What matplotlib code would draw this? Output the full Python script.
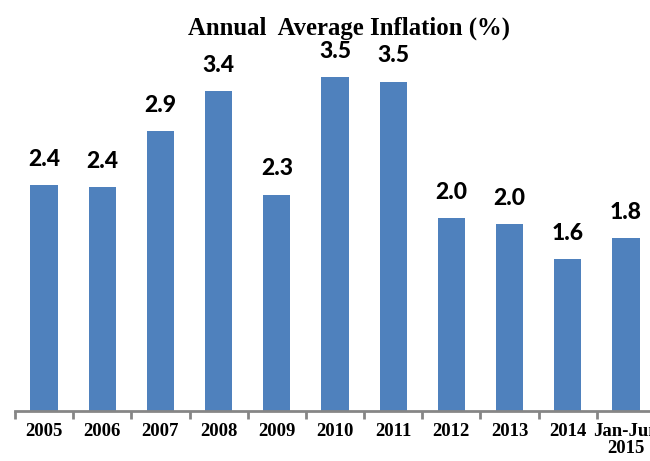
import matplotlib
matplotlib.use("Agg")
import matplotlib.pyplot as plt
import numpy as np

categories = ["2005", "2006", "2007", "2008", "2009", "2010", "2011",
              "2012", "2013", "2014", "Jan-Jun\n2015"]
values = [2.37, 2.35, 2.94, 3.36, 2.27, 3.51, 3.46, 2.02, 1.96, 1.59, 1.81]
title = "Annual  Average Inflation (%)"

fig = plt.figure(figsize=(6.5, 4.61), dpi=100)
ax = fig.add_axes([15/650, 50.5/461, 640/650, 374.5/461])

x = np.arange(len(categories))
ax.bar(x, values, width=0.47, color="#4F81BD", zorder=2)
ax.set_xlim(-0.5, len(categories) - 0.5)
ax.set_ylim(0, 3.94)

for xi, v in zip(x, values):
    ax.annotate(f"{v:.1f}", (xi, v), xytext=(0, 11), textcoords="offset points",
                ha="center", va="bottom", fontsize=16.5, fontweight=900,
                family=["Lato", "DejaVu Sans"], color="black")

for s in ["top", "right", "left"]:
    ax.spines[s].set_visible(False)
ax.spines["bottom"].set_color("#868686")
ax.spines["bottom"].set_linewidth(2)
ax.set_yticks([])

ax.set_xticks(x)
ax.set_xticklabels(categories, fontsize=13.5, fontweight="bold",
                   family=["Liberation Serif", "DejaVu Serif"], linespacing=1.0)
ax.tick_params(axis="x", which="major", length=0, pad=9)
ax.set_xticks(np.arange(-0.5, len(categories), 1.0), minor=True)
ax.tick_params(axis="x", which="minor", length=6, width=2, color="#868686",
               direction="out")

fig.text(349/650, 1 - 35/461, title, ha="center", va="baseline", fontsize=17.8,
         fontweight="bold", family=["Liberation Serif", "DejaVu Serif"])

fig.savefig("out.png", dpi=100)
